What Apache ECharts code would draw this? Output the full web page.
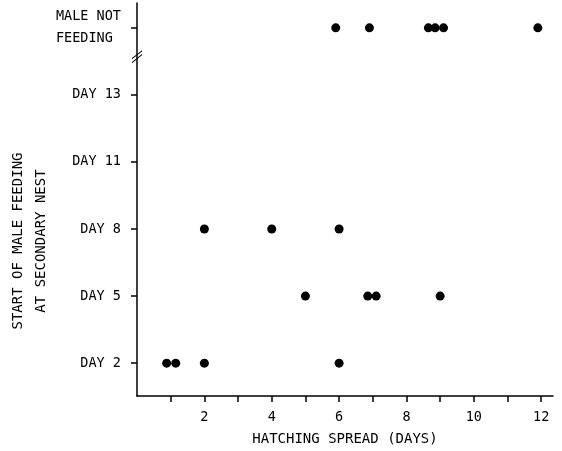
<!DOCTYPE html>
<html>
<head>
<meta charset="utf-8">
<script src="https://cdn.jsdelivr.net/npm/echarts@6/dist/echarts.min.js"></script>
<style>html,body{margin:0;padding:0;background:#fff}#c{width:562px;height:451px}</style>
</head>
<body>
<div id="c"></div>
<script>
// Categories on the y axis (equally spaced rows)
const yCategories = ['DAY 2', 'DAY 5', 'DAY 8', 'DAY 11', 'DAY 13', 'MALE NOT\nFEEDING\u00a0'];
// Hatching spread (days) for each row
const day2 = [0.88, 1.15, 2, 6];
const day5 = [5, 6.85, 7.1, 9];
const day8 = [2, 4, 6];
const day11 = [];
const day13 = [];
const maleNotFeeding = [5.9, 6.9, 8.65, 8.85, 9.1, 11.9];
const rows = [day2, day5, day8, day11, day13, maleNotFeeding];
// x axis ticks / labels
const xTicks = [1, 2, 3, 4, 5, 6, 7, 8, 9, 10, 11, 12];
const xLabels = [2, 4, 6, 8, 10, 12];
// axis break mark position (between DAY 13 and MALE NOT FEEDING)
const breakMark = [[0, 4.57]];

const points = [];
rows.forEach((r, i) => r.forEach(x => points.push([x, i])));

const font = 'DejaVu Sans Mono';
const ink = '#000';

const chart = echarts.init(document.getElementById('c'));
chart.setOption({
  animation: false,
  backgroundColor: '#fff',
  grid: { left: 137, right: 9, top: 3, bottom: 54, containLabel: false },
  xAxis: {
    type: 'value', min: 0, max: 12.35,
    splitLine: { show: false },
    axisLine: { onZero: false, lineStyle: { color: ink, width: 1.5 } },
    axisTick: { show: true, length: 6, customValues: xTicks, lineStyle: { color: ink, width: 1.5 } },
    axisLabel: { customValues: xLabels, color: ink, fontFamily: font, fontSize: 13.5, margin: 14 },
    name: 'HATCHING SPREAD (DAYS)', nameLocation: 'middle', nameGap: 36,
    nameTextStyle: { color: ink, fontFamily: font, fontSize: 14 }
  },
  yAxis: {
    type: 'value', min: -0.49, max: 5.37,
    splitLine: { show: false },
    axisLine: { show: true, onZero: false, lineStyle: { color: ink, width: 1.5 } },
    axisTick: { show: true, length: 6, customValues: [0, 1, 2, 3, 4, 5], lineStyle: { color: ink, width: 1.5 } },
    axisLabel: {
      customValues: [0, 1, 2, 3, 4, 5],
      formatter: v => yCategories[Math.round(v)] || '',
      color: ink, fontFamily: font, fontSize: 13.5, margin: 16, lineHeight: 22
    }
  },
  graphic: [{
    type: 'text', x: 30, y: 241, rotation: Math.PI / 2,
    style: {
      text: 'START OF MALE FEEDING\nAT SECONDARY NEST',
      font: '14px "DejaVu Sans Mono"', fill: ink,
      align: 'center', verticalAlign: 'middle', lineHeight: 23
    }
  }],
  series: [{
    type: 'scatter', data: points, symbolSize: 9,
    itemStyle: { color: '#000', opacity: 1 }, clip: false
  }, {
    type: 'scatter', data: breakMark, clip: false, silent: true,
    symbol: 'path://M0,10 L10,0 L10,1.6 L0,11.6 Z M0,15 L10,5 L10,6.6 L0,16.6 Z',
    symbolSize: [10, 13], itemStyle: { color: '#000', opacity: 1 }
  }]
});
</script>
</body>
</html>
